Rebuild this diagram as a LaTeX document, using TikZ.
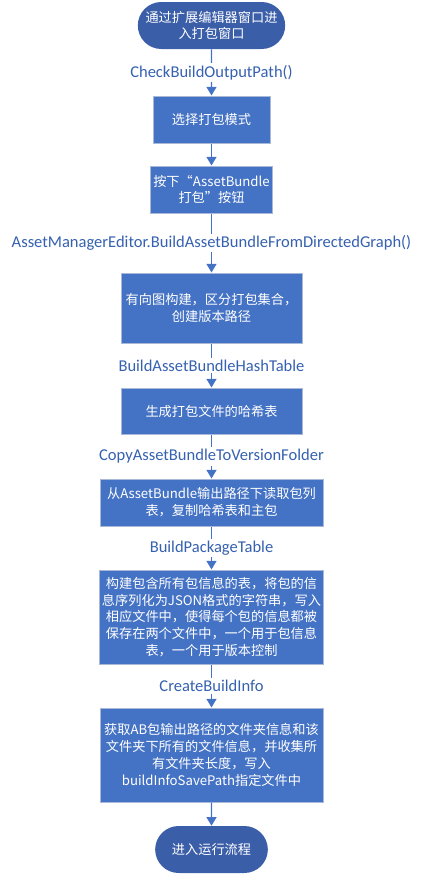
\documentclass[tikz,border=0pt]{standalone}
\usepackage{fontspec}
\setmainfont{Carlito}
\newfontfamily\cjk{Noto Sans CJK SC}
\usetikzlibrary{shapes.misc,arrows.meta}
\definecolor{boxblue}{HTML}{4472C4}
\definecolor{termblue}{HTML}{3B5EA9}
\definecolor{edgeblue}{HTML}{4472C4}
\definecolor{labblue}{HTML}{3561B0}
\definecolor{boxline}{HTML}{A9B8D6}
\tikzset{
  px/.style={x=0.75pt,y=-0.75pt},
  procbox/.style={rectangle, fill=boxblue, draw=boxline, line width=0.75pt, text=white, align=center, inner sep=2pt,
    font=\cjk\fontsize{9.9}{12.6}\selectfont},
  termbox/.style={rounded rectangle, fill=termblue, draw=none, text=white, align=center, inner sep=2pt,
    font=\cjk\fontsize{9.9}{12.6}\selectfont},
  conn/.style={draw=edgeblue, line width=1.1pt, -{Triangle[width=7.5pt,length=6.5pt]}},
  lab/.style={fill=white, text=labblue, inner sep=1.5pt, font=\fontsize{12.4}{14}\selectfont}
}
\begin{document}
\begin{tikzpicture}[px]
\useasboundingbox (0,0) rectangle (423,875);
\node[termbox, minimum width=105pt, minimum height=35.25pt] (s) at (211.5,25.5) {通过扩展编辑器窗口进\\入打包窗口};
\node[procbox, minimum width=87.75pt, minimum height=35.25pt] (b2) at (211.5,119.5) {选择打包模式};
\node[procbox, minimum width=87.75pt, minimum height=35.25pt] (b3) at (211.5,189.5) {按下“AssetBundle\\打包”按钮};
\node[procbox, minimum width=135.75pt, minimum height=52.5pt] (b4) at (211.5,308) {有向图构建，区分打包集合，\\创建版本路径};
\node[procbox, minimum width=135.75pt, minimum height=34.5pt] (b5) at (211.5,411) {生成打包文件的哈希表};
\node[procbox, minimum width=167.25pt, minimum height=35.25pt] (b6) at (211.5,502.5) {从AssetBundle输出路径下读取包列\\表，复制哈希表和主包};
\node[procbox, minimum width=167.25pt, minimum height=70.5pt] (b7) at (211.5,617) {构建包含所有包信息的表，将包的信\\息序列化为JSON格式的字符串，写入\\相应文件中，使得每个包的信息都被\\保存在两个文件中，一个用于包信息\\表，一个用于版本控制};
\node[procbox, minimum width=167.25pt, minimum height=70.5pt] (b8) at (211.5,755) {获取AB包输出路径的文件夹信息和该\\文件夹下所有的文件信息，并收集所\\有文件夹长度，写入\\buildInfoSavePath指定文件中};
\node[termbox, minimum width=88.5pt, minimum height=35.25pt] (e) at (211.5,849.5) {进入运行流程};
\draw[conn] (s) -- node[lab] {CheckBuildOutputPath()} (b2);
\draw[conn] (b2) -- (b3);
\draw[conn] (b3) -- node[lab] {AssetManagerEditor.BuildAssetBundleFromDirectedGraph()} (b4);
\draw[conn] (b4) -- node[lab] {BuildAssetBundleHashTable} (b5);
\draw[conn] (b5) -- node[lab] {CopyAssetBundleToVersionFolder} (b6);
\draw[conn] (b6) -- node[lab] {BuildPackageTable} (b7);
\draw[conn] (b7) -- node[lab] {CreateBuildInfo} (b8);
\draw[conn] (b8) -- (e);
\end{tikzpicture}
\end{document}
